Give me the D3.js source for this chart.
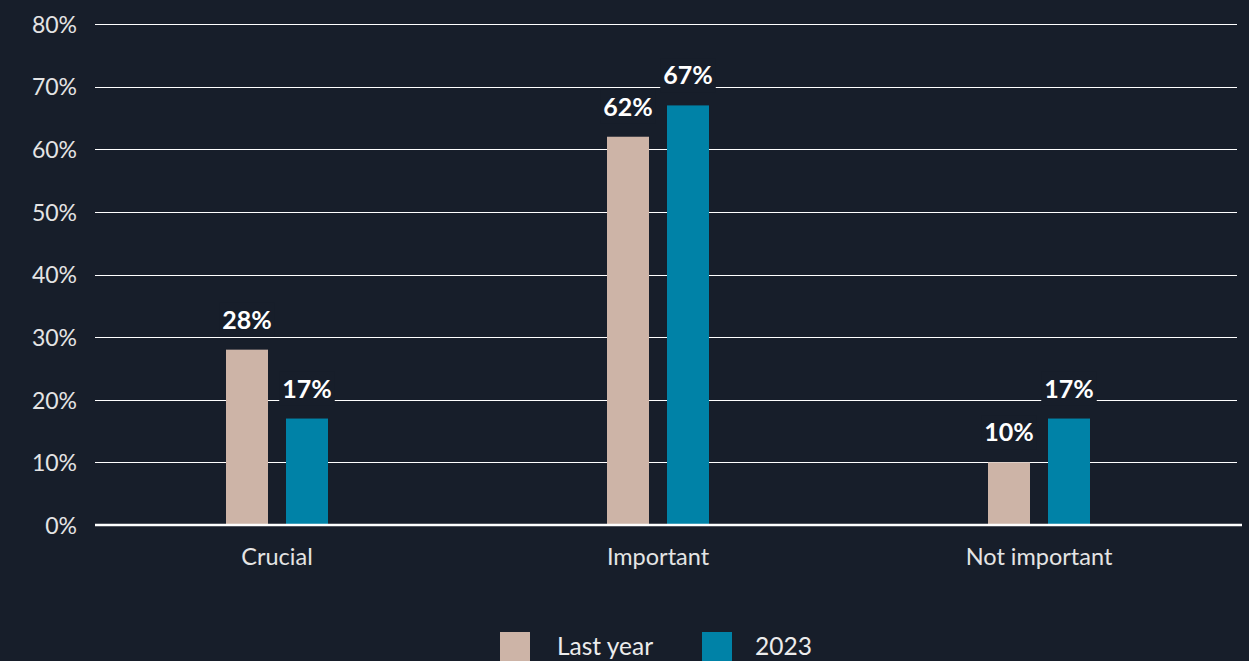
<!DOCTYPE html>
<html>
<head>
<meta charset="utf-8">
<script src="https://cdn.jsdelivr.net/npm/d3@7"></script>
<style>
  html, body { margin: 0; padding: 0; background: #171e2a; }
  svg { display: block; }
</style>
</head>
<body>
<svg id="chart" width="1249" height="661"></svg>
<script>
// Survey data: share of respondents per rating
const categories = ["Crucial", "Important", "Not important"];
const seriesNames = ["Last year", "2023"];
const lastYearValues = [28, 62, 10];
const values2023 = [17, 67, 17];
const yTickValues = [0, 10, 20, 30, 40, 50, 60, 70, 80];

const colors = { "Last year": "#cdb4a7", "2023": "#0082a7" };
const bg = "#171e2a";
const FONT = "Lato, 'Noto Sans', sans-serif";

const svg = d3.select("#chart");
const W = 1249, H = 661;
svg.append("rect").attr("width", W).attr("height", H).attr("fill", bg);

const gridLeft = 95, gridRight = 1237;
const y = d3.scaleLinear().domain([0, 80]).range([525, 24]);
const x = d3.scaleBand().domain(categories).range([86.5, 1229.5]);
const x1 = d3.scaleBand().domain(seriesNames).range([0, 102]).paddingInner(0.3);

// Gridlines
svg.append("g").selectAll("line")
  .data(yTickValues.filter(v => v > 0))
  .join("line")
  .attr("x1", gridLeft).attr("x2", gridRight)
  .attr("y1", d => Math.round(y(d)) + 0.5).attr("y2", d => Math.round(y(d)) + 0.5)
  .attr("stroke", "#ffffff").attr("stroke-width", 1.2);

// Y axis labels
const yAxis = d3.axisLeft(y).tickValues(yTickValues).tickFormat(d => d + "%").tickSize(0).tickPadding(0);
const yg = svg.append("g").attr("transform", "translate(77,0)").call(yAxis);
yg.select(".domain").remove();
yg.selectAll("text")
  .attr("fill", "#e4e4e4")
  .attr("font-family", FONT)
  .attr("font-size", 23)
  .attr("dy", "0.36em");

// Data rows
const rows = categories.map((c, i) => ({
  category: c,
  items: [
    { series: "Last year", value: lastYearValues[i] },
    { series: "2023", value: values2023[i] }
  ]
}));

const groups = svg.append("g").selectAll("g")
  .data(rows)
  .join("g")
  .attr("transform", d => `translate(${x(d.category) + x.bandwidth() / 2 - 51},0)`);

// Bars
groups.selectAll("rect")
  .data(d => d.items)
  .join("rect")
  .attr("x", d => x1(d.series))
  .attr("width", x1.bandwidth())
  .attr("y", d => y(d.value))
  .attr("height", d => y(0) - y(d.value))
  .attr("fill", d => colors[d.series]);

// Baseline
svg.append("line")
  .attr("x1", gridLeft).attr("x2", 1242)
  .attr("y1", y(0)).attr("y2", y(0))
  .attr("stroke", "#ffffff").attr("stroke-width", 2.5);

// Value labels with background knockouts
const labels = groups.selectAll("g.lbl")
  .data(d => d.items)
  .join("g")
  .attr("class", "lbl")
  .attr("transform", d => `translate(${x1(d.series) + x1.bandwidth() / 2},${y(d.value) - 30})`);

labels.append("rect").attr("class", "bgbox").attr("fill", bg);
labels.append("text")
  .attr("text-anchor", "middle")
  .attr("dy", "0.36em")
  .attr("fill", "#ffffff")
  .attr("font-family", FONT)
  .attr("font-weight", 700)
  .attr("font-size", 25)
  .text(d => d.value + "%");
labels.each(function() {
  const g = d3.select(this);
  const bb = g.select("text").node().getBBox();
  g.select("rect.bgbox")
    .attr("x", bb.x - 3).attr("width", bb.width + 6)
    .attr("y", -17).attr("height", 34);
});

// Category labels
const xAxis = d3.axisBottom(x).tickSize(0).tickPadding(0);
const xg = svg.append("g").attr("transform", "translate(0,557)").call(xAxis);
xg.select(".domain").remove();
xg.selectAll("text")
  .attr("y", 0)
  .attr("dy", "0.36em")
  .attr("fill", "#e4e4e4")
  .attr("font-family", FONT)
  .attr("font-size", 23.5);

// Legend
const legendX = [500, 702];
const legendTextX = [57, 53];
const legend = svg.append("g").selectAll("g")
  .data(seriesNames)
  .join("g")
  .attr("transform", (d, i) => `translate(${legendX[i]},632)`);
legend.append("rect")
  .attr("width", 30).attr("height", 30)
  .attr("fill", d => colors[d]);
legend.append("text")
  .attr("x", (d, i) => legendTextX[i]).attr("y", 23)
  .attr("fill", "#ececec")
  .attr("font-family", FONT)
  .attr("font-size", 24.5)
  .text(d => d);
</script>
</body>
</html>
